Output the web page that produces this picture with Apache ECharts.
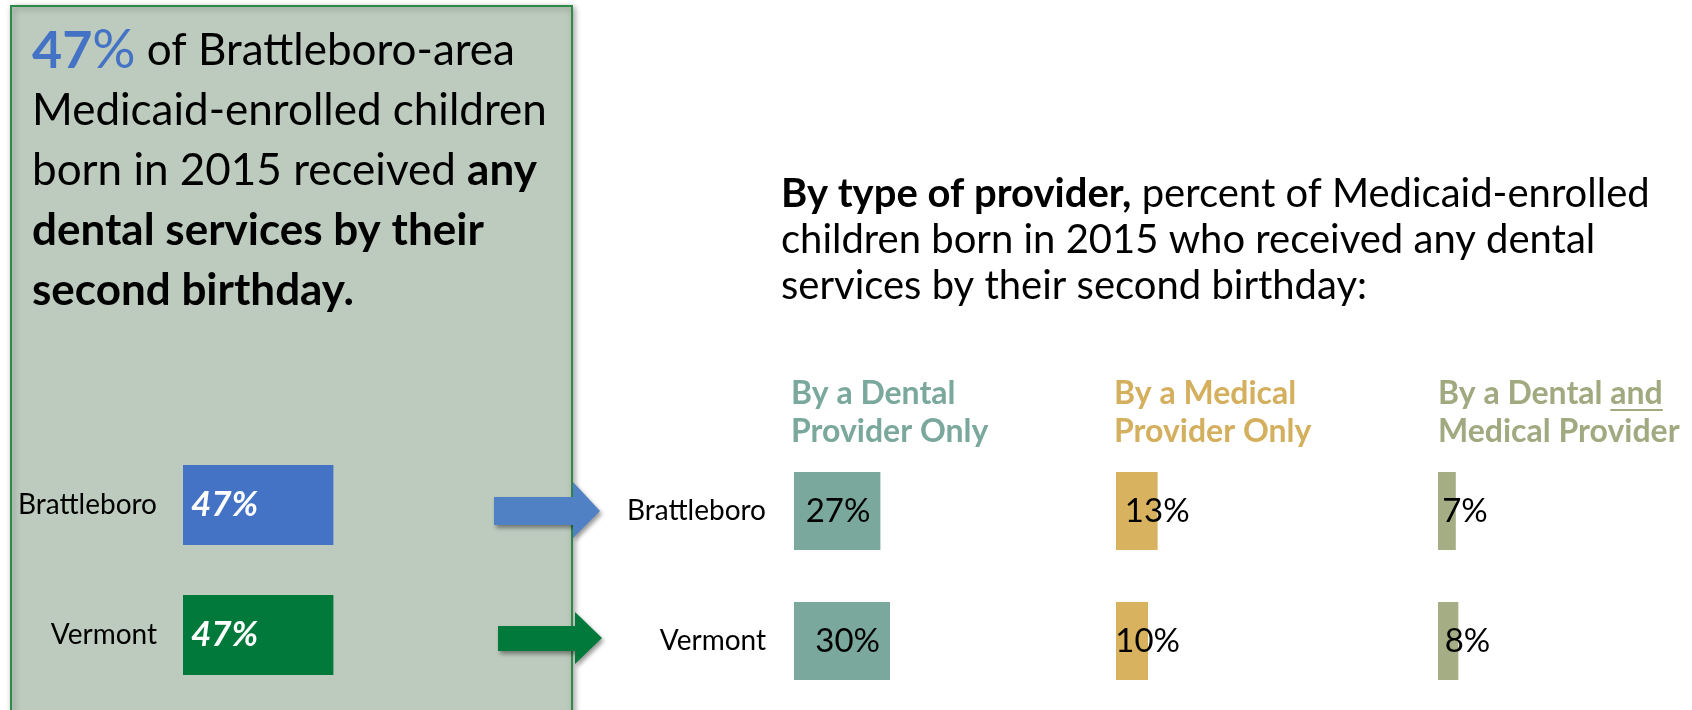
<!DOCTYPE html>
<html>
<head>
<meta charset="utf-8">
<title>Dental services by second birthday</title>
<script src="https://cdn.jsdelivr.net/npm/echarts@6/dist/echarts.min.js"></script>
<style>
    html, body { margin: 0; padding: 0; background: #fff; }
    #chart { width: 1692px; height: 710px; }
</style>
</head>
<body>
<div id="chart"></div>
<script>
// data
var regions = ['Brattleboro', 'Vermont'];
var anyDental = [47, 47];               // left panel
var dentalOnly = [27, 30];
var medicalOnly = [13, 10];
var dentalAndMedical = [7, 8];

var FONT = 'Lato';
var blue = '#4472C4', green = '#00793A';
var teal = '#7BA89C', gold = '#D8B25E', olive = '#A4AD83';
var headGold = '#D4AF5E', headOlive = '#A0A97F';

var chartDom = document.getElementById('chart');
var myChart = echarts.init(chartDom);

// measure where "and" sits so it can be underlined
var cv = document.createElement('canvas').getContext('2d');
cv.font = 'bold 32px ' + FONT;
var andX = 1438 + cv.measureText('By a Dental ').width;
var andW = cv.measureText('and').width;

// one grid per block of bars, all on the same 0-100 scale (3.2px per %)
var grids = [
    { left: 183, top: 440, width: 320, height: 260 },
    { left: 794, top: 446, width: 320, height: 260 },
    { left: 1116, top: 446, width: 320, height: 260 },
    { left: 1438, top: 446, width: 320, height: 260 }
];

function xAx(i) {
    return { gridIndex: i, type: 'value', min: 0, max: 100, show: false };
}
function yAx(i, showLabel, margin) {
    return {
        gridIndex: i, type: 'category', data: regions, inverse: true,
        axisLine: { show: false }, axisTick: { show: false }, splitLine: { show: false },
        axisLabel: { show: showLabel, margin: margin, color: '#000', fontFamily: FONT, fontSize: 28 }
    };
}
function pct(p) { return p.value + '%'; }

var option = {
    animation: false,
    grid: grids,
    xAxis: [xAx(0), xAx(1), xAx(2), xAx(3)],
    yAxis: [yAx(0, true, 26), yAx(1, true, 28), yAx(2, false, 0), yAx(3, false, 0)],
    graphic: [
        // green panel on the left
        {
            type: 'rect', z: -10, shape: { x: 11, y: 6, width: 561, height: 720 },
            style: { fill: '#BDCBBE', stroke: '#2F8A48', lineWidth: 2, shadowBlur: 6, shadowColor: 'rgba(0,0,0,0.35)', shadowOffsetX: 2, shadowOffsetY: 2 }
        },
        {
            type: 'text', left: 32, top: 24,
            style: {
                text: '{n|47}{p|%} of Brattleboro-area', fontFamily: FONT, fontSize: 44, fill: '#000',
                rich: {
                    n: { fontFamily: FONT, fontSize: 52, fontWeight: 'bold', fill: blue },
                    p: { fontFamily: FONT, fontSize: 54, fill: blue }
                }
            }
        },
        { type: 'text', left: 32, top: 89, style: { text: 'Medicaid-enrolled children', fontFamily: FONT, fontSize: 44, fill: '#000' } },
        {
            type: 'text', left: 32, top: 149,
            style: { text: 'born in 2015 received {b|any}', fontFamily: FONT, fontSize: 44, fill: '#000', rich: { b: { fontFamily: FONT, fontSize: 44, fontWeight: 'bold', fill: '#000' } } }
        },
        { type: 'text', left: 32, top: 209, style: { text: 'dental services by their', fontFamily: FONT, fontSize: 44, fontWeight: 'bold', fill: '#000' } },
        { type: 'text', left: 32, top: 269, style: { text: 'second birthday.', fontFamily: FONT, fontSize: 44, fontWeight: 'bold', fill: '#000' } },

        // arrows from the panel to the breakdown
        {
            type: 'polygon', shape: { points: [[494, 497], [573, 497], [573, 482], [600, 511], [573, 538], [573, 525], [494, 525]] },
            style: { fill: '#4F81C4', shadowBlur: 4, shadowColor: 'rgba(0,0,0,0.4)', shadowOffsetX: 2, shadowOffsetY: 3 }
        },
        {
            type: 'polygon', shape: { points: [[498, 626], [575, 626], [575, 612], [602, 638], [575, 664], [575, 651], [498, 651]] },
            style: { fill: green, shadowBlur: 4, shadowColor: 'rgba(0,0,0,0.4)', shadowOffsetX: 2, shadowOffsetY: 3 }
        },

        // right hand title
        {
            type: 'text', left: 781, top: 171,
            style: {
                text: '{b|By type of provider,} percent of Medicaid-enrolled\nchildren born in 2015 who received any dental\nservices by their second birthday:',
                fontFamily: FONT, fontSize: 40, lineHeight: 46, fill: '#000',
                rich: { b: { fontFamily: FONT, fontSize: 40, fontWeight: 'bold', fill: '#000', lineHeight: 46 } }
            }
        },

        // column headers
        { type: 'text', left: 791, top: 375, style: { text: 'By a Dental\nProvider Only', fontFamily: FONT, fontSize: 32, fontWeight: 'bold', lineHeight: 38, fill: teal } },
        { type: 'text', left: 1114, top: 375, style: { text: 'By a Medical\nProvider Only', fontFamily: FONT, fontSize: 32, fontWeight: 'bold', lineHeight: 38, fill: headGold } },
        { type: 'text', left: 1438, top: 375, style: { text: 'By a Dental and\nMedical Provider', fontFamily: FONT, fontSize: 32, fontWeight: 'bold', lineHeight: 38, fill: headOlive } },
        { type: 'line', shape: { x1: andX, y1: 410, x2: andX + andW, y2: 410 }, style: { stroke: headOlive, lineWidth: 2 } }
    ],
    series: [
        {
            type: 'bar', xAxisIndex: 0, yAxisIndex: 0, barWidth: 80,
            data: anyDental.map(function (v, i) { return { value: v, itemStyle: { color: i === 0 ? blue : green } }; }),
            label: { show: true, position: 'insideLeft', distance: 8, formatter: pct, color: '#fff', fontFamily: FONT, fontSize: 35, fontWeight: 'bold', fontStyle: 'italic' }
        },
        {
            type: 'bar', xAxisIndex: 1, yAxisIndex: 1, barWidth: 78, data: dentalOnly, itemStyle: { color: teal },
            label: { show: true, position: 'insideRight', distance: 10, formatter: pct, color: '#000', fontFamily: FONT, fontSize: 33 }
        },
        {
            type: 'bar', xAxisIndex: 2, yAxisIndex: 2, barWidth: 78, data: medicalOnly, itemStyle: { color: gold },
            label: { show: true, position: 'insideRight', distance: 0, offset: [32, 0], formatter: pct, color: '#000', fontFamily: FONT, fontSize: 33 }
        },
        {
            type: 'bar', xAxisIndex: 3, yAxisIndex: 3, barWidth: 78, data: dentalAndMedical, itemStyle: { color: olive },
            label: { show: true, position: 'insideRight', distance: 0, offset: [32, 0], formatter: pct, color: '#000', fontFamily: FONT, fontSize: 33 }
        }
    ]
};

option && myChart.setOption(option);
</script>
</body>
</html>
